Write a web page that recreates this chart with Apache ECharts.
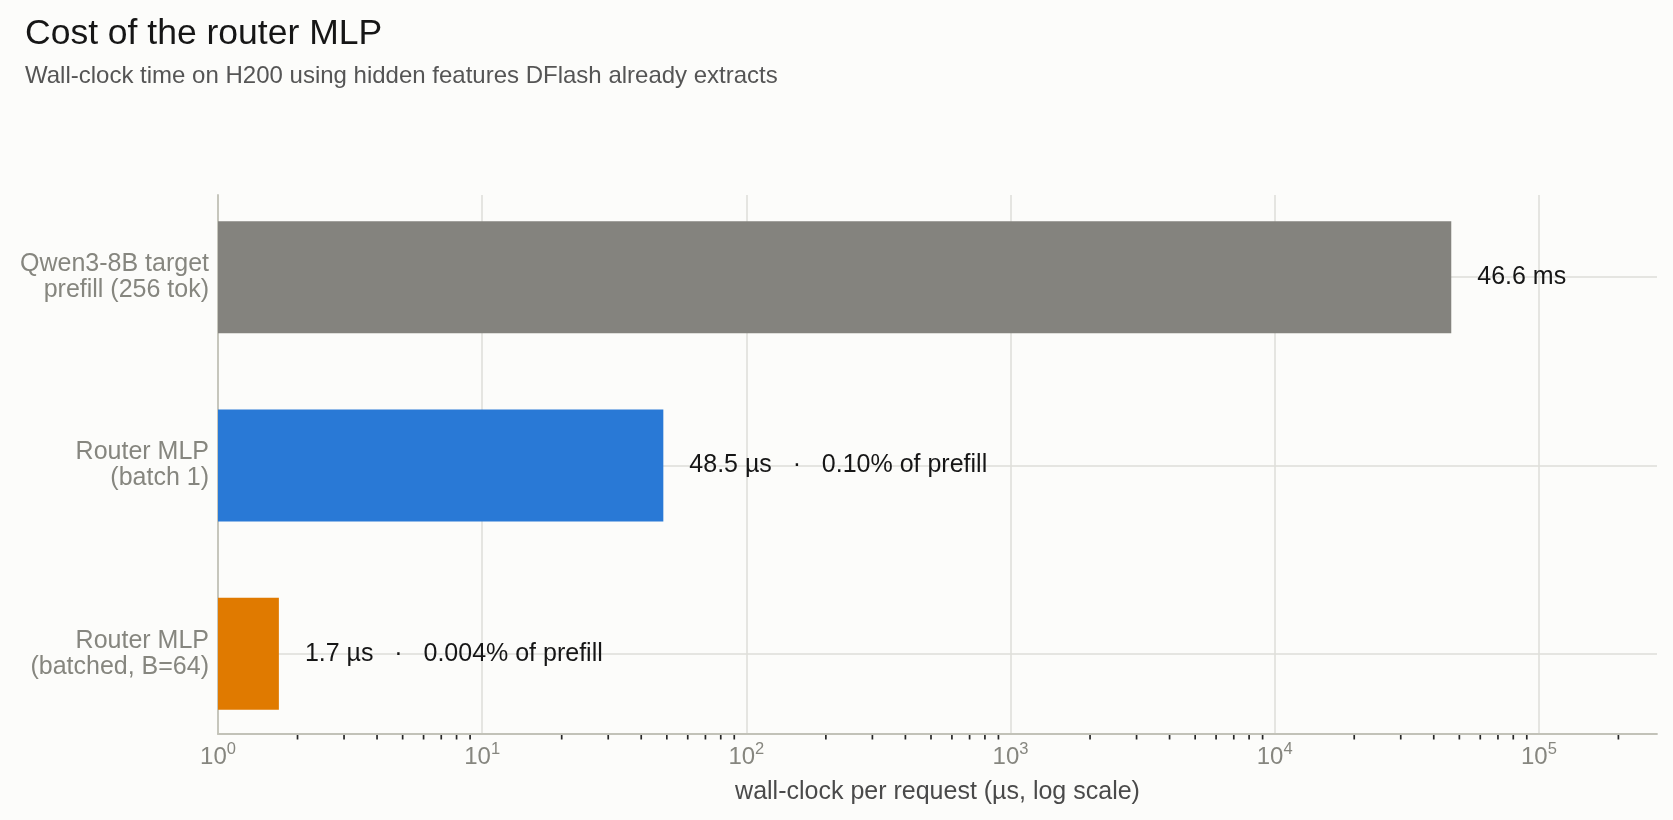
<!DOCTYPE html>
<html>
<head>
<meta charset="utf-8">
<title>Cost of the router MLP</title>
<script src="https://cdn.jsdelivr.net/npm/echarts@6/dist/echarts.min.js"></script>
<style>
  html, body { margin: 0; padding: 0; background: #fcfcfa; }
  #chart { width: 1673px; height: 820px; }
</style>
</head>
<body>
<div id="chart"></div>
<script>
// categories, top to bottom
var categories = [
    'Qwen3-8B target\nprefill (256 tok)',
    'Router MLP\n(batch 1)',
    'Router MLP\n(batched, B=64)'
];
// wall-clock per request, in µs
var costUs = [46600, 48.5, 1.7];
var valueLabels = [
    '46.6 ms',
    '48.5 µs   ·   0.10% of prefill',
    '1.7 µs   ·   0.004% of prefill'
];
var barColors = ['#84837e', '#2979d6', '#e07a00'];

// log axis range + minor tick steps inside each decade
var axisMin = 1;
var axisMax = 280000;
var decades = [1, 10, 100, 1000, 10000, 100000];
var minorSteps = [2, 3, 4, 5, 6, 7, 8, 9];

var titleText = 'Cost of the router MLP';
var subtitleText = 'Wall-clock time on H200 using hidden features DFlash already extracts';
var xAxisTitle = 'wall-clock per request (µs, log scale)';

var FONT = '"Liberation Sans", Arial, sans-serif';
var GRID_COLOR = '#deded8';
var AXIS_COLOR = '#c2c2b8';
var LABEL_GRAY = '#86867f';

var minorTicks = [];
decades.forEach(function (d) {
    minorSteps.forEach(function (s) {
        if (d * s < axisMax) minorTicks.push([d * s, 0]);
    });
});

var chart = echarts.init(document.getElementById('chart'));

var option = {
    animation: false,
    backgroundColor: '#fcfcfa',
    textStyle: { fontFamily: FONT },
    title: [
        {
            text: titleText, left: 25, top: 16, padding: 0,
            textStyle: { fontFamily: FONT, fontSize: 35.5, fontWeight: 'normal', color: '#161616' }
        },
        {
            text: subtitleText, left: 25, top: 64, padding: 0,
            textStyle: { fontFamily: FONT, fontSize: 24, fontWeight: 'normal', color: '#555555' }
        }
    ],
    grid: [
        // frame: axes, vertical grid lines, ticks
        { left: 218, right: 16, top: 195, bottom: 86, containLabel: false },
        // bars: band spacing as in the original
        { left: 218, right: 16, top: 183, bottom: 72, containLabel: false }
    ],
    xAxis: [
        {
            type: 'log', gridIndex: 0, logBase: 10, min: axisMin, max: axisMax,
            axisLine: { show: true, onZero: false, lineStyle: { color: AXIS_COLOR, width: 1.8 } },
            axisTick: { show: false },
            splitLine: { show: true, showMaxLine: false, lineStyle: { color: GRID_COLOR, width: 1.5 } },
            axisLabel: {
                margin: 7,
                showMaxLabel: false,
                fontSize: 24,
                color: LABEL_GRAY,
                formatter: function (v) {
                    var e = Math.round(Math.log10(v));
                    if (Math.abs(Math.log10(v) - e) > 1e-6) return '';
                    return '{b|10}{s|' + e + '}';
                },
                rich: {
                    b: { fontSize: 24, lineHeight: 28, verticalAlign: 'bottom', color: LABEL_GRAY, fontFamily: FONT },
                    s: { fontSize: 16.5, lineHeight: 17, verticalAlign: 'top', color: LABEL_GRAY, fontFamily: FONT }
                }
            },
            name: xAxisTitle,
            nameLocation: 'middle',
            nameGap: 46,
            nameTextStyle: { fontSize: 25, color: '#4a4a4a', fontFamily: FONT }
        },
        {
            type: 'log', gridIndex: 1, logBase: 10, min: axisMin, max: axisMax,
            show: false
        }
    ],
    yAxis: [
        {
            type: 'value', gridIndex: 0, min: 0, max: 1,
            axisLine: { show: true, onZero: false, lineStyle: { color: AXIS_COLOR, width: 1.8 } },
            axisTick: { show: false },
            axisLabel: { show: false },
            splitLine: { show: false }
        },
        {
            type: 'category', gridIndex: 1, data: categories, inverse: true,
            axisLine: { show: false },
            axisTick: { show: false },
            splitLine: { show: false },
            axisLabel: {
                margin: 9, fontSize: 25, lineHeight: 26, color: LABEL_GRAY, fontFamily: FONT
            }
        }
    ],
    series: [
        {
            // minor ticks under the log axis
            type: 'custom',
            xAxisIndex: 0,
            yAxisIndex: 0,
            clip: false,
            silent: true,
            data: minorTicks,
            renderItem: function (params, api) {
                var p = api.coord([api.value(0), 0]);
                return {
                    type: 'line',
                    shape: { x1: p[0], y1: p[1] + 1, x2: p[0], y2: p[1] + 5.5 },
                    style: { stroke: '#262626', lineWidth: 1.7 }
                };
            }
        },
        {
            type: 'bar',
            xAxisIndex: 1,
            yAxisIndex: 1,
            z: 3,
            barWidth: 112,
            data: costUs.map(function (v, i) {
                return { value: v, itemStyle: { color: barColors[i] } };
            }),
            label: {
                show: true,
                position: 'right',
                distance: 26,
                fontSize: 25,
                color: '#161616',
                fontFamily: FONT,
                formatter: function (p) { return valueLabels[p.dataIndex]; }
            },
            markLine: {
                silent: true,
                z: 1,
                symbol: 'none',
                label: { show: false },
                lineStyle: { type: 'solid', color: GRID_COLOR, width: 1.5 },
                data: categories.map(function (c) { return { yAxis: c }; })
            }
        }
    ]
};

chart.setOption(option);
</script>
</body>
</html>
